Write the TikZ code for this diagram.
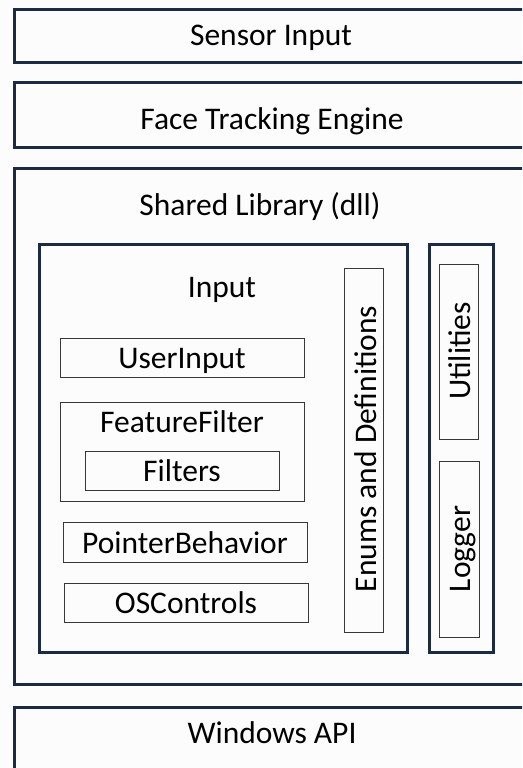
\documentclass[tikz,border=0pt]{standalone}
\usepackage{fontspec}
\setmainfont{Carlito}
\definecolor{framenavy}{HTML}{1C2B44}
\definecolor{boxgray}{HTML}{383838}
\definecolor{paper}{HTML}{FCFCFC}
\begin{document}
\begin{tikzpicture}[x=1pt,y=-1pt,
  layer/.style={draw=framenavy, line width=3.4pt, rectangle, inner sep=0pt, anchor=north west},
  part/.style={draw=boxgray, line width=1.3pt, rectangle, inner sep=0pt, anchor=north west},
  lbl/.style={font=\fontsize{31.5}{36}\selectfont, text=black, inner sep=0pt, anchor=base},
  vlbl/.style={lbl, rotate=90}]
  % canvas
  \fill[paper] (0,0) rectangle (522,768);
  \useasboundingbox (0,0) rectangle (522,768);
  \clip (0,0) rectangle (522,768);

  % full-width layers
  \node[layer, minimum width=519pt, minimum height=53pt] (sensor) at (13,8) {};
  \node[layer, minimum width=519pt, minimum height=65pt] (engine) at (13,81) {};
  \node[layer, minimum width=519pt, minimum height=516pt] (shared) at (13,167) {};
  \node[layer, minimum width=519pt, minimum height=100pt] (winapi) at (13,706) {};

  \node[lbl] (sensorT) at (271,46) {Sensor Input};
  \node[lbl] (engineT) at (272,129) {Face Tracking Engine};
  \node[lbl] (sharedT) at (260,215) {Shared Library (dll)};
  \node[lbl] (winapiT) at (272,743) {Windows API};

  % modules inside the shared library
  \node[layer, minimum width=368pt, minimum height=408pt] (input) at (38,243) {};
  \node[layer, minimum width=64pt, minimum height=408pt] (utilbox) at (428,243) {};
  \node[lbl] (inputT) at (222,297) {Input};

  % components of the input module
  \node[part, minimum width=244pt, minimum height=39pt] (userinput) at (60,338) {};
  \node[lbl] (userinputT) at (182,368) {UserInput};

  \node[part, minimum width=244pt, minimum height=99pt] (feature) at (60,402) {};
  \node[lbl] (featureT) at (182,432) {FeatureFilter};
  \node[part, minimum width=194pt, minimum height=39pt] (filters) at (85,451) {};
  \node[lbl] (filtersT) at (182,481) {Filters};

  \node[part, minimum width=244pt, minimum height=40pt] (pointer) at (63,522) {};
  \node[lbl] (pointerT) at (185,553) {PointerBehavior};

  \node[part, minimum width=244pt, minimum height=39pt] (oscontrols) at (64,583) {};
  \node[lbl] (oscontrolsT) at (186,613) {OSControls};

  \node[part, minimum width=39pt, minimum height=364pt] (enums) at (344,268) {};
  \node[vlbl] (enumsT) at (376,449) {Enums and Definitions};

  % utility components
  \node[part, minimum width=39pt, minimum height=175pt] (utilities) at (439,264) {};
  \node[vlbl] (utilitiesT) at (470,351) {Utilities};
  \node[part, minimum width=40pt, minimum height=176pt] (logger) at (439,461) {};
  \node[vlbl] (loggerT) at (470,549) {Logger};
\end{tikzpicture}
\end{document}
